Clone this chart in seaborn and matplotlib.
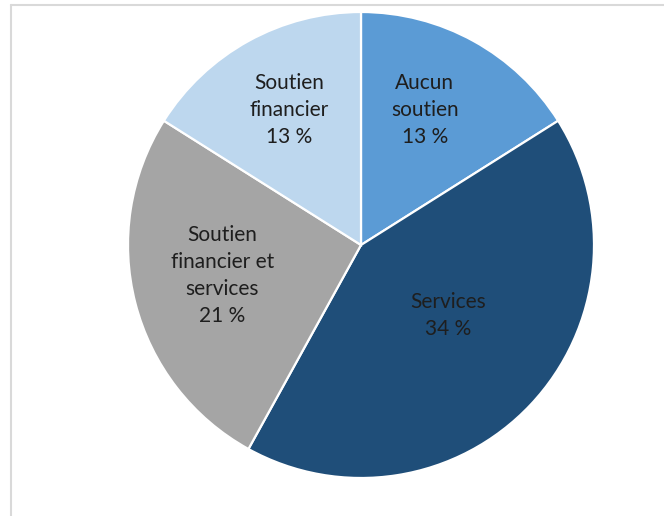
import numpy as np
import matplotlib
matplotlib.use("Agg")
import matplotlib.pyplot as plt
import seaborn as sns
from matplotlib.lines import Line2D

categories = ["Aucun\nsoutien", "Services", "Soutien\nfinancier et\nservices", "Soutien\nfinancier"]
values = [13, 34, 21, 13]
pct_labels = ["13 %", "34 %", "21 %", "13 %"]
colors = ["#5B9BD5", "#1F4E79", "#A5A5A5", "#BDD7EE"]
label_radius = [0.64, 0.48, 0.61, 0.655]
label_angle_shift = [3.5, 4.5, -2.0, -1.0]

sns.set_theme(style="white")
plt.rcParams["font.family"] = ["Lato", "DejaVu Sans"]

fig = plt.figure(figsize=(6.64, 5.16), dpi=100)
ax = fig.add_axes([128 / 664, 38 / 516, 466 / 664, 466 / 516])
wedges, _ = ax.pie(values, colors=colors, startangle=90, counterclock=False,
                   radius=1, wedgeprops=dict(edgecolor="white", linewidth=1.6))
ax.set_xlim(-1, 1)
ax.set_ylim(-1, 1)
ax.set_aspect("equal")
ax.axis("off")

for w, cat, pct, r, sh in zip(wedges, categories, pct_labels, label_radius, label_angle_shift):
    ang = np.deg2rad((w.theta1 + w.theta2) / 2 + sh)
    ax.text(r * np.cos(ang), r * np.sin(ang), f"{cat}\n{pct}", ha="center", va="center",
            fontsize=15, color="#1e1e1e", linespacing=1.45)

# frame (top and left edges visible)
fig.add_artist(Line2D([11 / 664, 1.0], [1 - 5 / 516, 1 - 5 / 516], color="#d9d9d9", lw=1.5,
                      transform=fig.transFigure))
fig.add_artist(Line2D([11 / 664, 11 / 664], [0, 1 - 5 / 516], color="#d9d9d9", lw=1.5,
                      transform=fig.transFigure))

fig.savefig("out.png", dpi=100)
